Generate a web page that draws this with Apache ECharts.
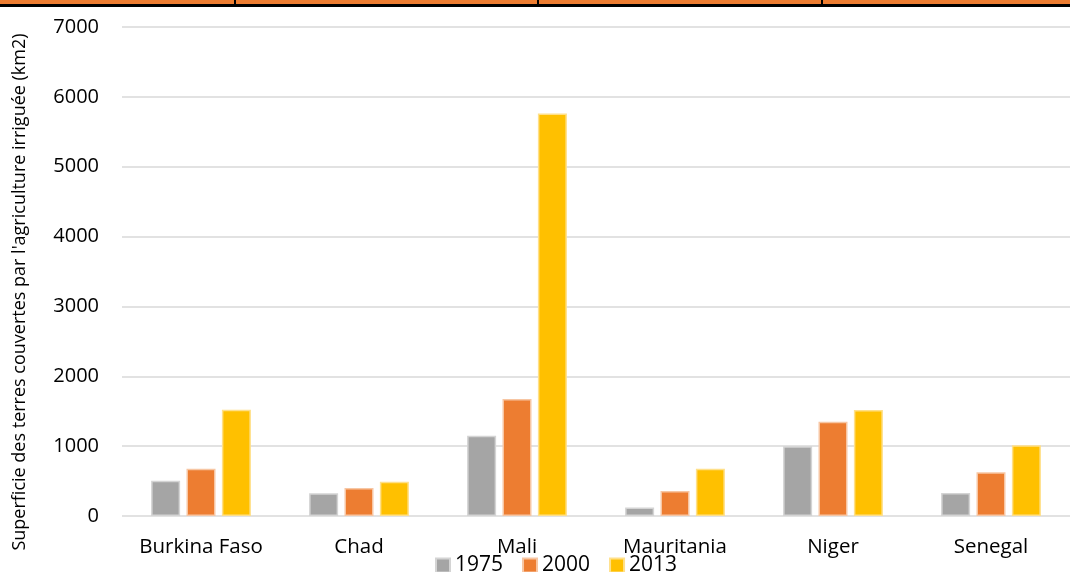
<!DOCTYPE html>
<html>
<head>
<meta charset="utf-8">
<script src="https://cdn.jsdelivr.net/npm/echarts@6/dist/echarts.min.js"></script>
<style>
  html, body { margin: 0; padding: 0; background: #fff; }
  #chart { width: 1070px; height: 572px; }
</style>
</head>
<body>
<div id="chart"></div>
<script>
// Irrigated land area per country (km2)
const countries = ['Burkina Faso', 'Chad', 'Mali', 'Mauritania', 'Niger', 'Senegal'];
const years = ['1975', '2000', '2013'];
const area1975 = [505, 325, 1150, 120, 1000, 330];
const area2000 = [677, 400, 1675, 358, 1350, 626];
const area2013 = [1522, 491, 5760, 677, 1517, 1012];
const yTicks = [0, 1000, 2000, 3000, 4000, 5000, 6000, 7000];

const FONT = '"Open Sans", sans-serif';
const fills = ['#a5a5a5', '#ed7d31', '#ffc000'];
const edges = ['#d4d4d4', '#f7c6a3', '#ffe089'];
const values = [area1975, area2000, area2013];

const chart = echarts.init(document.getElementById('chart'), null, { renderer: 'canvas' });

chart.setOption({
  animation: false,
  backgroundColor: '#ffffff',
  grid: { left: 122, right: 0, top: 27, bottom: 56, containLabel: false },
  legend: {
    data: years,
    left: 435,
    top: 555,
    padding: 0,
    itemWidth: 14,
    itemHeight: 14,
    itemGap: 19,
    icon: 'rect',
    textStyle: { fontFamily: FONT, fontSize: 21, color: '#000' }
  },
  xAxis: {
    type: 'category',
    data: countries,
    axisLine: { show: false },
    axisTick: { show: false },
    axisLabel: { fontFamily: FONT, fontSize: 20.5, color: '#000', margin: 21, interval: 0, hideOverlap: false }
  },
  yAxis: {
    type: 'value',
    min: yTicks[0],
    max: yTicks[yTicks.length - 1],
    interval: 1000,
    axisLine: { show: false },
    axisTick: { show: false },
    axisLabel: {
      fontFamily: FONT, fontSize: 20, color: '#000', margin: 23,
      formatter: v => String(v)
    },
    splitLine: { lineStyle: { color: '#d9d9d9', width: 1.5 } }
  },
  series: years.map((y, i) => ({
    name: y,
    type: 'bar',
    data: values[i],
    barWidth: 29,
    barGap: '22%',
    itemStyle: { color: fills[i], borderColor: edges[i], borderWidth: 1.5 }
  })),
  graphic: [
    { type: 'rect', left: 0, top: 0, shape: { width: 1070, height: 4 }, style: { fill: '#ed7d31' }, silent: true },
    { type: 'rect', left: 0, top: 4, shape: { width: 1070, height: 3 }, style: { fill: '#000' }, silent: true },
    { type: 'rect', left: 234, top: 0, shape: { width: 2, height: 4 }, style: { fill: '#000' }, silent: true },
    { type: 'rect', left: 537, top: 0, shape: { width: 2, height: 4 }, style: { fill: '#000' }, silent: true },
    { type: 'rect', left: 821, top: 0, shape: { width: 2, height: 4 }, style: { fill: '#000' }, silent: true },
    {
      type: 'text',
      x: 20,
      y: 292,
      rotation: Math.PI / 2,
      style: {
        text: "Superficie des terres couvertes par l'agriculture irriguée (km2)",
        fontFamily: FONT,
        fontSize: 18,
        fill: '#000',
        align: 'center',
        verticalAlign: 'middle'
      },
      silent: true
    }
  ]
});
</script>
</body>
</html>
